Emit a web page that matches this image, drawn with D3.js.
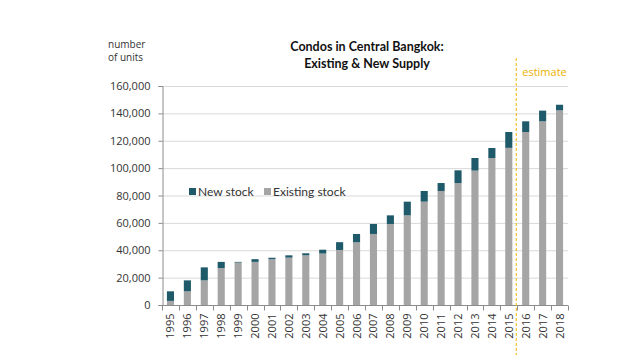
<!DOCTYPE html>
<html>
<head>
<meta charset="utf-8">
<script src="https://cdn.jsdelivr.net/npm/d3@7"></script>
<style>
  body { margin: 0; background: #fff; }
  svg { display: block; font-family: "Open Sans", "Noto Sans", sans-serif; }
</style>
</head>
<body>
<div id="chart"></div>
<script>
const years = ["1995","1996","1997","1998","1999","2000","2001","2002","2003","2004","2005","2006",
  "2007","2008","2009","2010","2011","2012","2013","2014","2015","2016","2017","2018"];
const existingStock = [3000, 10000, 18000, 27000, 31000, 31500, 33500, 34600, 36300, 37600, 40200, 45800,
  51900, 59200, 65500, 75500, 83300, 89100, 98200, 107400, 114800, 126400, 134200, 142200];
const newStock = [7000, 8000, 9500, 4500, 500, 2000, 1000, 1700, 1500, 2800, 5700, 6100,
  7300, 6300, 10000, 7800, 5800, 9300, 9200, 7300, 11600, 7800, 7800, 4100];
const yTicks = [0, 20000, 40000, 60000, 80000, 100000, 120000, 140000, 160000];
const firstEstimate = "2016";

const W = 632, H = 363;
const margin = { left: 162, right: 64, top: 86, bottom: 58 };

const svg = d3.select("#chart").append("svg")
  .attr("width", W)
  .attr("height", H);

const x = d3.scaleBand()
  .domain(years)
  .range([margin.left, W - margin.right])
  .paddingInner(0.58)
  .paddingOuter(0.29);

const y = d3.scaleLinear()
  .domain([0, 160000])
  .range([H - margin.bottom, margin.top]);

// gridlines
svg.append("g")
  .selectAll("line")
  .data(yTicks.slice(1))
  .join("line")
  .attr("x1", margin.left)
  .attr("x2", W - margin.right)
  .attr("y1", d => y(d) + 0.5)
  .attr("y2", d => y(d) + 0.5)
  .attr("stroke", "#d9d9d9")
  .attr("stroke-width", 1);

// stacked bars
const rows = years.map((yr, i) => ({ year: yr, existing: existingStock[i], fresh: newStock[i] }));

svg.append("g")
  .selectAll("rect")
  .data(rows)
  .join("rect")
  .attr("x", d => x(d.year))
  .attr("width", x.bandwidth())
  .attr("y", d => y(d.existing))
  .attr("height", d => y(0) - y(d.existing))
  .attr("fill", "#a5a5a5");

svg.append("g")
  .selectAll("rect")
  .data(rows)
  .join("rect")
  .attr("x", d => x(d.year))
  .attr("width", x.bandwidth())
  .attr("y", d => y(d.existing + d.fresh))
  .attr("height", d => y(d.existing) - y(d.existing + d.fresh))
  .attr("fill", "#1f5a6b");

// y axis
const yAxis = svg.append("g")
  .attr("transform", `translate(${margin.left + 0.5},0)`)
  .call(d3.axisLeft(y).tickValues(yTicks).tickSize(4).tickPadding(8).tickFormat(d3.format(",")));
yAxis.select(".domain").attr("stroke", "#8c8c8c");
yAxis.selectAll(".tick line").attr("stroke", "#8c8c8c");
yAxis.selectAll("text").attr("font-size", 11).attr("fill", "#333").attr("font-family", "Open Sans, sans-serif");

// x axis with ticks between categories
const step = x.step();
const xg = svg.append("g").attr("transform", `translate(0,${y(0) + 0.5})`);
xg.append("line")
  .attr("x1", margin.left).attr("x2", W - margin.right)
  .attr("stroke", "#8c8c8c");
xg.selectAll(".sep")
  .data(d3.range(years.length + 1))
  .join("line")
  .attr("class", "sep")
  .attr("x1", i => Math.round(margin.left + i * step) + 0.5)
  .attr("x2", i => Math.round(margin.left + i * step) + 0.5)
  .attr("y1", 0).attr("y2", 5)
  .attr("stroke", "#8c8c8c");
xg.selectAll(".lbl")
  .data(years)
  .join("text")
  .attr("class", "lbl")
  .attr("transform", d => `translate(${x(d) + x.bandwidth() / 2 + 4},8) rotate(-90)`)
  .attr("text-anchor", "end")
  .attr("font-size", 11)
  .attr("fill", "#333")
  .text(d => d);

// estimate divider
const ex = x(firstEstimate) - (step - x.bandwidth()) / 2 - 1;
svg.append("line")
  .attr("x1", ex).attr("x2", ex)
  .attr("y1", 58).attr("y2", 355)
  .attr("stroke", "#f2b705")
  .attr("stroke-width", 1)
  .attr("stroke-dasharray", "3,2");
svg.append("text")
  .attr("x", ex + 6).attr("y", 76)
  .attr("font-size", 11)
  .attr("fill", "#eab000")
  .text("estimate");

// title
const title = svg.append("text")
  .attr("x", 367).attr("y", 51)
  .attr("text-anchor", "middle")
  .attr("font-family", "Lato, sans-serif")
  .attr("font-size", 12.5)
  .attr("font-weight", "bold")
  .attr("fill", "#111");
title.append("tspan").attr("x", 367).text("Condos in Central Bangkok:");
title.append("tspan").attr("x", 367).attr("dy", 17).text("Existing & New Supply");

// y axis unit label
const unit = svg.append("text")
  .attr("x", 108).attr("y", 48)
  .attr("font-size", 10)
  .attr("fill", "#333");
unit.append("tspan").attr("x", 108).text("number");
unit.append("tspan").attr("x", 108).attr("dy", 13).text("of units");

// legend
const legend = [
  { label: "New stock", color: "#1f5a6b", x: 189 },
  { label: "Existing stock", color: "#a5a5a5", x: 264 }
];
const lg = svg.append("g").selectAll("g").data(legend).join("g")
  .attr("transform", d => `translate(${d.x},188)`);
lg.append("rect").attr("width", 7).attr("height", 7).attr("fill", d => d.color);
lg.append("text").attr("x", 9).attr("y", 8).attr("font-family", "Lato, sans-serif")
  .attr("font-size", 12).attr("fill", "#333").text(d => d.label);
</script>
</body>
</html>
